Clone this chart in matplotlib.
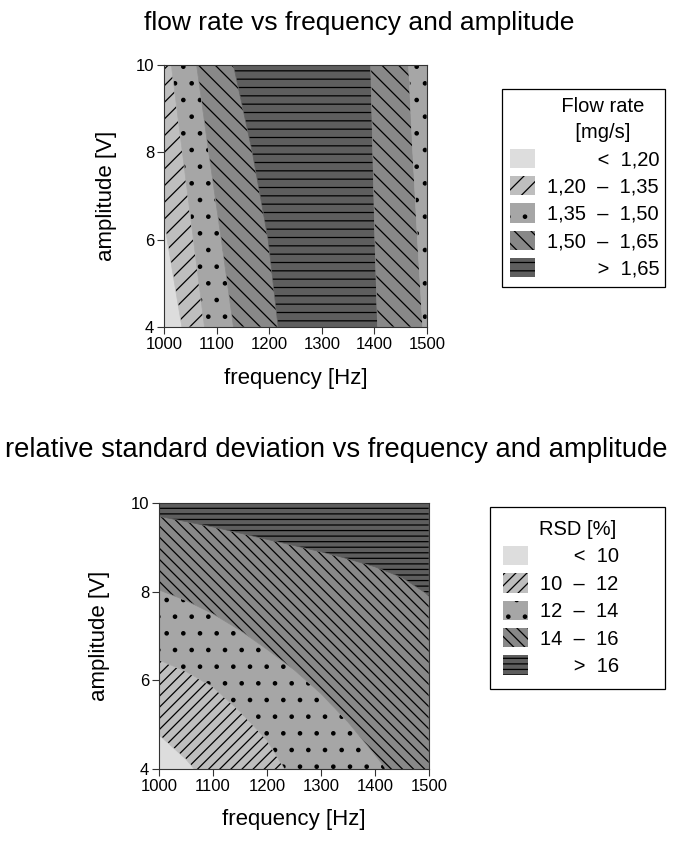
import matplotlib
matplotlib.use("Agg")
from matplotlib import pyplot as plt
from matplotlib.patches import Patch

plt.rcParams['font.family'] = ['Liberation Sans', 'DejaVu Sans']
plt.rcParams['hatch.color'] = 'black'
plt.rcParams['hatch.linewidth'] = 0.9

# Flow rate chart: class boundaries (frequency in Hz) read at each amplitude
flow_amp = [4, 6, 8, 10]
flow_b120 = [1034, 1006, 979, 951]
flow_b135 = [1077, 1056, 1035, 1014]
flow_b150 = [1132, 1109, 1085, 1062]
flow_b165 = [1217, 1198, 1168, 1132]
flow_b165_hi = [1406, 1401, 1397, 1393]
flow_b150_hi = [1492, 1482, 1473, 1465]
flow_labels = ["\u2007\u2008\u2007\u2007  <  1,20", "1,20  \u2013  1,35",
               "1,35  \u2013  1,50", "1,50  \u2013  1,65",
               "\u2007\u2008\u2007\u2007  >  1,65"]

# RSD chart: class boundaries (amplitude in V) read at each frequency
rsd_freq = [1000, 1050, 1100, 1150, 1200, 1250, 1300, 1350, 1400, 1450, 1500]
rsd_b10 = [4.77, 4.22, 3.5, 2.7, 1.9, 1.1, 0.3, -0.5, -1.3, -2.1, -2.9]
rsd_b12 = [6.46, 6.2, 5.85, 5.3, 4.65, 3.65, 2.7, 1.8, 0.9, 0.0, -0.9]
rsd_b14 = [8.04, 7.8, 7.5, 7.13, 6.7, 6.24, 5.7, 5.06, 4.32, 3.55, 2.75]
rsd_b16 = [9.7, 9.58, 9.46, 9.32, 9.18, 9.04, 8.9, 8.74, 8.56, 8.32, 7.92]
rsd_labels = ["\u2007\u2007  <  10", "10  \u2013  12", "12  \u2013  14",
              "14  \u2013  16", "\u2007\u2007  >  16"]

freq_ticks = [1000, 1100, 1200, 1300, 1400, 1500]
amp_ticks = [4, 6, 8, 10]

colors = ['#dddddd', '#bebebe', '#a6a6a6', '#888888', '#5e5e5e']
hatch_top = ['', '//', '.', '\\\\', '--']
hatch_bot = ['', '///', '.', '\\\\\\', '---']

fig = plt.figure(figsize=(6.73, 8.41), dpi=100)
ax1 = fig.add_axes([164/673, 1-327/841, 263/673, 262/841])
ax2 = fig.add_axes([159/673, 1-769/841, 270/673, 266/841])

# top chart: vertical bands
f_lo = [freq_ticks[0]] * len(flow_amp)
f_hi = [freq_ticks[-1]] * len(flow_amp)
bands = [(f_lo, flow_b120, 0), (flow_b120, flow_b135, 1),
         (flow_b135, flow_b150, 2), (flow_b150, flow_b165, 3),
         (flow_b165, flow_b165_hi, 4), (flow_b165_hi, flow_b150_hi, 3),
         (flow_b150_hi, f_hi, 2)]
for left, right, k in bands:
    ax1.fill_betweenx(flow_amp, left, right, facecolor=colors[k],
                      edgecolor='face', linewidth=0.5, hatch=hatch_top[k])

# bottom chart: sloping bands
a_lo = [amp_ticks[0]] * len(rsd_freq)
a_hi = [amp_ticks[-1]] * len(rsd_freq)
bands = [(a_lo, rsd_b10, 0), (rsd_b10, rsd_b12, 1), (rsd_b12, rsd_b14, 2),
         (rsd_b14, rsd_b16, 3), (rsd_b16, a_hi, 4)]
for low, up, k in bands:
    ax2.fill_between(rsd_freq, low, up, facecolor=colors[k],
                     edgecolor='face', linewidth=0.5, hatch=hatch_bot[k])

for ax in (ax1, ax2):
    ax.set_xlim(1000, 1500)
    ax.set_ylim(4, 10)
    ax.set_xticks(freq_ticks)
    ax.set_yticks(amp_ticks)
    ax.tick_params(direction='out', length=5, width=0.8, pad=2,
                   labelsize=12, color='#333333')
    for s in ax.spines.values():
        s.set_color('#333333')
        s.set_linewidth(0.8)
    ax.set_xlabel("frequency [Hz]", fontsize=16)
    ax.set_ylabel("amplitude [V]", fontsize=16)

ax1.xaxis.set_label_coords(0.5, -0.155)
ax1.yaxis.set_label_coords(-0.18, 0.5)
ax2.xaxis.set_label_coords(0.5, -0.15)
ax2.yaxis.set_label_coords(-0.18, 0.5)

fig.text(359/673, 1-23/841, "flow rate vs frequency and amplitude",
         ha='center', va='center', fontsize=19)
fig.text(336/673, 1-450/841,
         "relative standard deviation vs frequency and amplitude",
         ha='center', va='center', fontsize=19.7)

h1 = [Patch(facecolor=colors[k], hatch=hatch_top[k], edgecolor='k',
            linewidth=0) for k in range(5)]
h2 = [Patch(facecolor=colors[k], hatch=hatch_bot[k], edgecolor='k',
            linewidth=0) for k in range(5)]

leg_kw = dict(loc='upper left', mode='expand', fontsize=14.5,
              title_fontsize=14.5, fancybox=False, framealpha=1,
              edgecolor='black', borderaxespad=0,
              handlelength=1.25, handleheight=1.1, handletextpad=0.6,
              labelspacing=0.34)
l1 = fig.legend(h1, flow_labels,
                title="\u2007\u2007\u2007 Flow rate\n\u2007\u2007\u2007 [mg/s]",
                bbox_to_anchor=(502/673, 1-289/841, 163/673, 200/841),
                borderpad=0.4, **leg_kw)
l2 = fig.legend(h2, rsd_labels, title="RSD [%]",
                bbox_to_anchor=(490/673, 1-695/841, 175/673, 188/841),
                borderpad=0.65, **leg_kw)
l1.get_title().set_multialignment('center')
l1.get_title().set_linespacing(1.45)
for l in (l1, l2):
    l.get_frame().set_linewidth(0.9)

fig.savefig("out.png", dpi=100)
